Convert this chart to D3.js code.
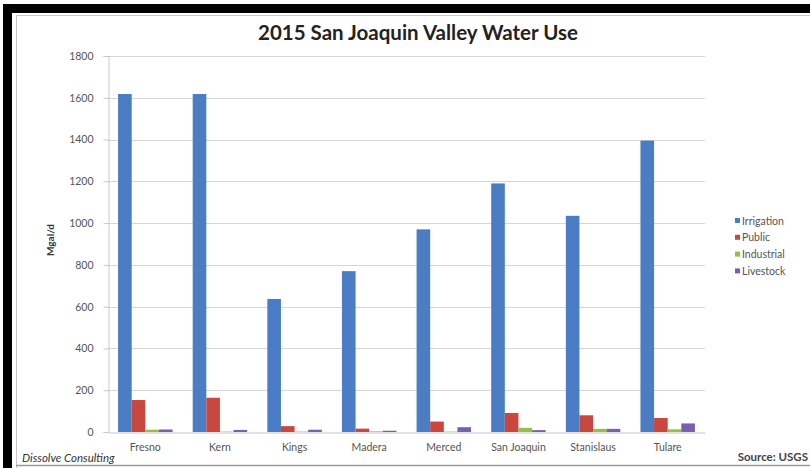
<!DOCTYPE html>
<html><head><meta charset="utf-8">
<script src="https://cdn.jsdelivr.net/npm/d3@7"></script>
<style>
html,body{margin:0;padding:0;background:#fff;}
svg{display:block;}
</style></head>
<body>
<svg id="chart" width="810" height="468"></svg>
<script>
const categories = ["Fresno","Kern","Kings","Madera","Merced","San Joaquin","Stanislaus","Tulare"];
const seriesNames = ["Irrigation","Public","Industrial","Livestock"];
const irrigation = [1618, 1618, 637, 770, 970, 1190, 1035, 1395];
const publicUse  = [153, 164, 28, 16, 50, 91, 80, 67];
const industrial = [11, 2, 2, 3, 2, 20, 15, 13];
const livestock  = [12, 10, 11, 6, 23, 9, 15, 41];
const yTicks = [0,200,400,600,800,1000,1200,1400,1600,1800];
const colors = ["#4a7dc4","#c8473f","#93c047","#7a5fae"];

const series = [irrigation, publicUse, industrial, livestock];
const data = categories.map((c,i)=>({cat:c, vals: seriesNames.map((s,j)=>({name:s, v:series[j][i]}))}));

const svg = d3.select("#chart");
const FONT = "Lato, 'Open Sans', sans-serif";
// frame
svg.append("rect").attr("x",0).attr("y",0).attr("width",810).attr("height",468).attr("fill","#fff");
svg.append("rect").attr("x",3).attr("y",4).attr("width",9).attr("height",464).attr("fill","#000");
svg.append("rect").attr("x",3).attr("y",4).attr("width",807).attr("height",9).attr("fill","#000");
svg.append("line").attr("x1",16.5).attr("x2",16.5).attr("y1",15).attr("y2",468).attr("stroke","#c8c8c8");
svg.append("line").attr("x1",16).attr("x2",810).attr("y1",15.5).attr("y2",15.5).attr("stroke","#c8c8c8");
svg.append("line").attr("x1",16).attr("x2",810).attr("y1",465.5).attr("y2",465.5).attr("stroke","#9a9a9a").attr("stroke-width",1.5);

const pLeft=108, pRight=705, pTop=56, pBottom=432;
const x0 = d3.scaleBand().domain(categories).range([pLeft,pRight]).paddingInner(0.27).paddingOuter(0.135);
const x1 = d3.scaleBand().domain(seriesNames).range([0,x0.bandwidth()]);
const y = d3.scaleLinear().domain([0,1800]).range([pBottom,pTop]);
const color = d3.scaleOrdinal().domain(seriesNames).range(colors);

// gridlines
svg.append("g").selectAll("line").data(yTicks.filter(t=>t>0)).join("line")
  .attr("x1",pLeft).attr("x2",pRight).attr("y1",d=>Math.round(y(d))+0.5).attr("y2",d=>Math.round(y(d))+0.5)
  .attr("stroke","#d6d6d6");

// y axis
const yAxis = svg.append("g").attr("transform",`translate(${pLeft+0.5},0)`)
  .call(d3.axisLeft(y).tickValues(yTicks).tickSize(5).tickPadding(10).tickFormat(d3.format("d")));
yAxis.select(".domain").attr("stroke","#c8c8c8");
yAxis.selectAll(".tick line").attr("stroke","#c8c8c8");
yAxis.selectAll("text").attr("font-family",FONT).attr("font-size",10.5).attr("fill","#555");

// bars
svg.append("g").selectAll("g").data(data).join("g")
  .attr("transform",d=>`translate(${x0(d.cat)},0)`)
  .selectAll("rect").data(d=>d.vals).join("rect")
  .attr("x",d=>x1(d.name)).attr("width",x1.bandwidth())
  .attr("y",d=>y(d.v)).attr("height",d=>y(0)-y(d.v))
  .attr("fill",d=>color(d.name));

// x axis
const xAxis = svg.append("g").attr("transform",`translate(0,${pBottom+0.5})`)
  .call(d3.axisBottom(x0).tickSize(0).tickPadding(11));
xAxis.select(".domain").attr("stroke","#c8c8c8");
xAxis.selectAll("text").attr("font-family",FONT).attr("font-size",10.5).attr("fill","#555");

// title
svg.append("text").attr("x",418).attr("y",40).attr("text-anchor","middle")
  .attr("font-family",FONT).attr("font-weight","bold").attr("font-size",20.5).attr("fill","#222")
  .text("2015 San Joaquin Valley Water Use");

// y label
svg.append("text").attr("transform","translate(54,240) rotate(-90)").attr("text-anchor","middle")
  .attr("font-family",FONT).attr("font-weight","bold").attr("font-size",10).attr("fill","#333")
  .text("Mgal/d");

// legend
const lg = svg.append("g").attr("transform","translate(735,221)");
const li = lg.selectAll("g").data(seriesNames).join("g").attr("transform",(d,i)=>`translate(0,${i*16.8})`);
li.append("rect").attr("x",0).attr("y",-3).attr("width",5).attr("height",5).attr("fill",d=>color(d));
li.append("text").attr("x",7).attr("y",0).attr("dy","0.35em")
  .attr("font-family",FONT).attr("font-size",10.5).attr("fill","#555").text(d=>d);

// footer
svg.append("text").attr("x",22).attr("y",462)
  .attr("font-family",FONT).attr("font-style","italic").attr("font-size",11.5).attr("fill","#333")
  .text("Dissolve Consulting");
svg.append("text").attr("x",808).attr("y",461).attr("text-anchor","end")
  .attr("font-family",FONT).attr("font-weight","bold").attr("font-size",11.5).attr("fill","#444")
  .text("Source: USGS");
</script>
</body></html>
